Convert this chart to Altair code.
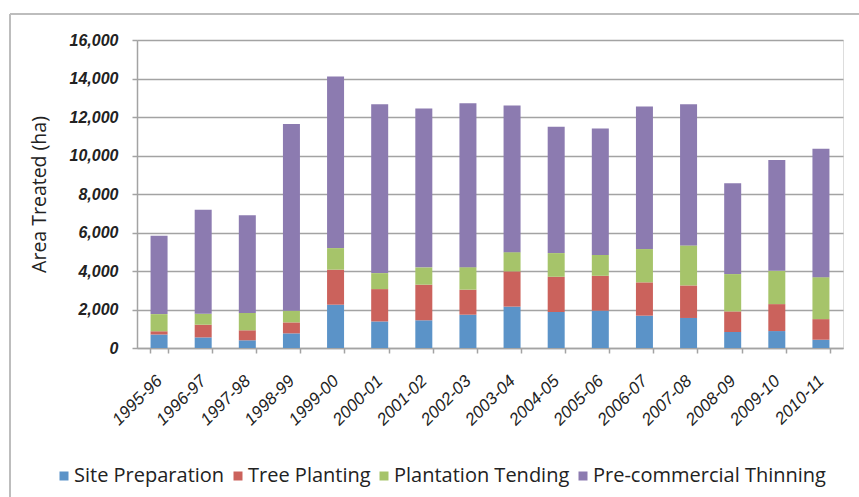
import altair as alt
import pandas as pd

# Fiscal years on the x axis
years = ["1995-96", "1996-97", "1997-98", "1998-99", "1999-00", "2000-01",
         "2001-02", "2002-03", "2003-04", "2004-05", "2005-06", "2006-07",
         "2007-08", "2008-09", "2009-10", "2010-11"]

# Area treated (ha) by silviculture activity
site_preparation = [700, 550, 400, 760, 2250, 1380, 1440, 1730, 2150, 1870,
                    1940, 1680, 1560, 830, 880, 430]
tree_planting = [170, 660, 520, 570, 1820, 1680, 1850, 1300, 1830, 1830,
                 1810, 1730, 1690, 1070, 1400, 1070]
plantation_tending = [890, 570, 900, 610, 1120, 830, 900, 1170, 1000, 1230,
                      1080, 1730, 2080, 1940, 1730, 2180]
precommercial_thinning = [4070, 5400, 5070, 9690, 8910, 8770, 8250, 8520,
                          7620, 6560, 6570, 7400, 7330, 4720, 5760, 6670]

activities = ["Site Preparation", "Tree Planting", "Plantation Tending",
              "Pre-commercial Thinning"]
colors = ["#5B93C8", "#CB625C", "#A6C46A", "#8C7BB0"]
series = [site_preparation, tree_planting, plantation_tending,
          precommercial_thinning]

rows = []
for k, (name, vals) in enumerate(zip(activities, series)):
    for yr, v in zip(years, vals):
        rows.append({"year": yr, "activity": name, "area": v, "order": k})
df = pd.DataFrame(rows)

W, H = 706, 308
PAD_L, PAD_T, PAD_R, PAD_B = 137, 40, 16, 149

LABEL_FONT = "Liberation Sans"
TEXT_FONT = "Open Sans"
GRID = "#A3A3A3"
INK = "#222222"

bars = alt.Chart(df).mark_bar(size=17).encode(
    x=alt.X("year:N", sort=years,
            scale=alt.Scale(paddingInner=0.6, paddingOuter=0.3),
            axis=alt.Axis(title=None, labelAngle=315, labelAlign="right",
                          labelBaseline="middle", labelFont=LABEL_FONT,
                          labelFontStyle="italic", labelFontSize=17,
                          labelColor=INK, labelPadding=25,
                          tickBand="extent", tickSize=5, tickColor=GRID,
                          tickWidth=1.5, domainColor=GRID, domainWidth=1.5,
                          grid=False)),
    y=alt.Y("area:Q", stack="zero",
            scale=alt.Scale(domain=[0, 16000], nice=False),
            axis=alt.Axis(title="Area Treated (ha)",
                          values=list(range(0, 16001, 2000)),
                          format=",d", labelFont=LABEL_FONT,
                          labelFontStyle="italic", labelFontWeight="bold",
                          labelFontSize=16, labelColor=INK,
                          labelPadding=14, tickSize=5, tickColor=GRID,
                          tickWidth=1.5, domainColor=GRID, domainWidth=1.5,
                          gridColor=GRID, gridWidth=1.5,
                          titleFont=TEXT_FONT, titleFontSize=19.5,
                          titleFontWeight="normal", titleColor=INK,
                          titlePadding=20)),
    color=alt.Color("activity:N", sort=activities,
                    scale=alt.Scale(domain=activities, range=colors),
                    legend=alt.Legend(title=None, orient="none",
                                      direction="horizontal",
                                      legendX=-83, legendY=426,
                                      symbolType="square", symbolSize=81,
                                      symbolStrokeWidth=0, symbolOffset=0,
                                      labelFont=TEXT_FONT, labelFontSize=20,
                                      labelColor=INK, labelOffset=0,
                                      labelLimit=400, columnPadding=3)),
    order=alt.Order("order:Q", sort="ascending"),
)

# Frame lines along the top and left edges of the figure
frame_top = alt.Chart(df).mark_rule(color="#BDBDBD", strokeWidth=2).encode(
    x=alt.value(-127), x2=alt.value(W + PAD_R), y=alt.value(-26))
frame_left = alt.Chart(df).mark_rule(color="#BDBDBD", strokeWidth=2).encode(
    x=alt.value(-127), y=alt.value(-26), y2=alt.value(H + PAD_B))

chart = alt.layer(frame_top, frame_left, bars).properties(
    width=W, height=H,
    autosize=alt.AutoSizeParams(type="none"),
    padding={"left": PAD_L, "top": PAD_T, "right": PAD_R, "bottom": PAD_B},
).configure_view(stroke=None).configure(background="white")

chart.save("out.html", embed_options={"renderer": "svg", "actions": False})
